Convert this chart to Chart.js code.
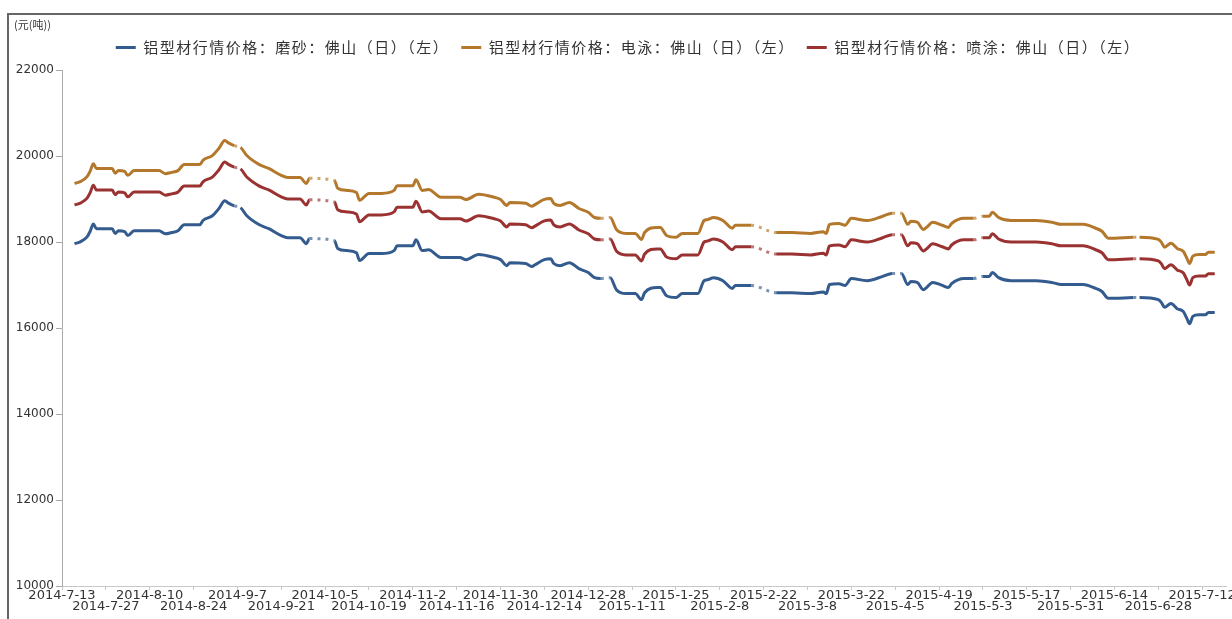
<!DOCTYPE html>
<html>
<head>
<meta charset="utf-8">
<script src="https://cdn.jsdelivr.net/npm/chart.js@4"></script>
<style>
  html, body { margin: 0; padding: 0; background: #fff; overflow: hidden; }
  #marco { position: absolute; left: 7px; top: 13px; width: 1300px; height: 700px;
           border-top: 2px solid #666; border-left: 2px solid #666; }
  #grafico { position: absolute; left: 0; top: 0; }
</style>
</head>
<body>
<div id="marco"></div>
<canvas id="grafico" width="1232" height="619"></canvas>
<script>
// fechas de las marcas del eje x (cada 14 dias desde 2014-7-13)
const etiquetas = ["2014-7-13", "2014-7-27", "2014-8-10", "2014-8-24", "2014-9-7", "2014-9-21",
  "2014-10-5", "2014-10-19", "2014-11-2", "2014-11-16", "2014-11-30", "2014-12-14", "2014-12-28",
  "2015-1-11", "2015-1-25", "2015-2-8", "2015-2-22", "2015-3-8", "2015-3-22", "2015-4-5",
  "2015-4-19", "2015-5-3", "2015-5-17", "2015-5-31", "2015-6-14", "2015-6-28", "2015-7-12"];

// dia (contado desde 2014-7-13) de cada punto
const dias = [
  4, 6, 8, 9, 10, 11, 16, 17, 18, 20,
  21, 23, 31, 33, 35, 37, 39, 44, 45, 48,
  50, 52, 53, 55, 56, 57, 59, 63, 66, 70,
  72, 76, 78, 79, 83, 87, 88, 91, 94, 95,
  98, 102, 106, 107, 112, 113, 115, 117, 121, 127,
  129, 133, 138, 140, 142, 143, 148, 150, 151, 154,
  156, 157, 159, 162, 165, 168, 170, 172, 173, 175,
  177, 180, 183, 185, 186, 190, 191, 193, 196, 198,
  203, 205, 206, 208, 211, 214, 215, 220, 224, 228,
  233, 239, 243, 244, 245, 248, 250, 252, 257, 262,
  265, 266, 268, 270, 271, 273, 275, 276, 278, 281,
  283, 284, 288, 291, 292, 294, 296, 297, 299, 303,
  311, 316, 319, 326, 330, 332, 334, 336, 342, 343,
  344, 350, 351, 352, 354, 356, 358, 359, 360, 361,
  363, 365, 366, 368];

// 铝型材行情价格：磨砂：佛山
const mosha = [
  17960, 18010, 18120, 18250, 18420, 18310, 18310, 18200, 18260, 18240,
  18150, 18260, 18260, 18190, 18220, 18260, 18400, 18400, 18500, 18610,
  18770, 18960, 18910, 18840, null, 18800, 18610, 18400, 18310, 18150,
  18100, 18100, 17960, 18080, null, 18030, 17850, 17800, 17750, 17570,
  17730, 17730, 17800, 17910, 17910, 18050, 17800, 17820, 17640, 17640,
  17590, 17710, 17640, 17590, 17450, 17520, 17500, 17430, 17470, 17590,
  17610, 17500, 17450, 17520, 17380, 17290, 17170, 17150, null, 17170,
  16890, 16800, 16800, 16660, 16820, 16940, 16940, 16750, 16710, 16800,
  16800, 17100, 17120, 17170, 17100, 16920, 16990, 16990, null, 16820,
  16820, 16800, 16840, 16800, 17010, 17030, 16990, 17150, 17100, 17200,
  17270, null, 17270, 17010, 17080, 17060, 16890, 16940, 17060, 16990,
  16940, 17030, 17150, 17150, null, 17200, 17200, 17290, 17170, 17100,
  17100, 17060, 17010, 17010, 16920, 16850, 16690, 16690, 16710, null,
  16710, 16660, 16590, 16480, 16570, 16450, 16380, 16240, 16100, 16270,
  16310, 16310, 16360, 16360];

// 铝型材行情价格：电泳：佛山
const dianyong = [
  19360, 19410, 19520, 19650, 19820, 19710, 19710, 19600, 19660, 19640,
  19550, 19660, 19660, 19590, 19620, 19660, 19800, 19800, 19900, 20010,
  20170, 20360, 20310, 20240, null, 20200, 20010, 19800, 19710, 19550,
  19500, 19500, 19360, 19480, null, 19430, 19250, 19200, 19150, 18970,
  19130, 19130, 19200, 19310, 19310, 19450, 19200, 19220, 19040, 19040,
  18990, 19110, 19040, 18990, 18850, 18920, 18900, 18830, 18870, 18990,
  19010, 18900, 18850, 18920, 18780, 18690, 18570, 18550, null, 18570,
  18290, 18200, 18200, 18060, 18220, 18340, 18340, 18150, 18110, 18200,
  18200, 18500, 18520, 18570, 18500, 18320, 18390, 18390, null, 18220,
  18220, 18200, 18240, 18200, 18410, 18430, 18390, 18550, 18500, 18600,
  18670, null, 18670, 18410, 18480, 18460, 18290, 18340, 18460, 18390,
  18340, 18430, 18550, 18550, null, 18600, 18600, 18690, 18570, 18500,
  18500, 18460, 18410, 18410, 18320, 18250, 18090, 18090, 18110, null,
  18110, 18060, 17990, 17880, 17970, 17850, 17780, 17640, 17500, 17670,
  17710, 17710, 17760, 17760];

// 铝型材行情价格：喷涂：佛山
const pentu = [
  18860, 18910, 19020, 19150, 19320, 19210, 19210, 19100, 19160, 19140,
  19050, 19160, 19160, 19090, 19120, 19160, 19300, 19300, 19400, 19510,
  19670, 19860, 19810, 19740, null, 19700, 19510, 19300, 19210, 19050,
  19000, 19000, 18860, 18980, null, 18930, 18750, 18700, 18650, 18470,
  18630, 18630, 18700, 18810, 18810, 18950, 18700, 18720, 18540, 18540,
  18490, 18610, 18540, 18490, 18350, 18420, 18400, 18330, 18370, 18490,
  18510, 18400, 18350, 18420, 18280, 18190, 18070, 18050, null, 18070,
  17790, 17700, 17700, 17560, 17720, 17840, 17840, 17650, 17610, 17700,
  17700, 18000, 18020, 18070, 18000, 17820, 17890, 17890, null, 17720,
  17720, 17700, 17740, 17700, 17910, 17930, 17890, 18050, 18000, 18100,
  18170, null, 18170, 17910, 17980, 17960, 17790, 17840, 17960, 17890,
  17840, 17930, 18050, 18050, null, 18100, 18100, 18190, 18070, 18000,
  18000, 17960, 17910, 17910, 17820, 17750, 17590, 17590, 17610, null,
  17610, 17560, 17490, 17380, 17470, 17350, 17280, 17140, 17000, 17170,
  17210, 17210, 17260, 17260];

const nombres = ["铝型材行情价格：磨砂：佛山（日）（左）",
  "铝型材行情价格：电泳：佛山（日）（左）",
  "铝型材行情价格：喷涂：佛山（日）（左）"];
const colores = ["#345b8e", "#b4782c", "#9a3232"];

function armarSerie(nombre, valores, color) {
  return {
    label: nombre,
    data: dias.map((d, i) => ({ x: d, y: valores[i] })),
    borderColor: color,
    backgroundColor: color,
    borderWidth: 3,
    pointRadius: 0,
    cubicInterpolationMode: "monotone",
    spanGaps: true,
    segment: {
      // tramos sin dato: punteado
      borderDash: ctx => (ctx.p0.skip || ctx.p1.skip) ? [3, 5] : undefined,
      borderColor: ctx => (ctx.p0.skip || ctx.p1.skip) ? color + "aa" : undefined,
    },
  };
}

const unidad = {
  id: "unidad",
  afterDraw(chart) {
    const ctx = chart.ctx;
    ctx.save();
    ctx.font = "11px 'Noto Sans CJK SC'";
    ctx.fillStyle = "#333";
    ctx.textBaseline = "middle";
    ctx.fillText("(元(吨))", 14, 25);
    ctx.restore();
  },
};

// leyenda con algo de espacio entre letras, alto fijo y corrida a la derecha
const ajusteLeyenda = {
  id: "ajusteLeyenda",
  beforeInit(chart) {
    const leyenda = chart.legend;
    const fitOriginal = leyenda.fit;
    const drawOriginal = leyenda.draw;
    leyenda.fit = function () {
      this.ctx.save();
      this.ctx.letterSpacing = "1.5px";
      fitOriginal.call(this);
      this.ctx.restore();
      this.height = 42;
    };
    leyenda.draw = function () {
      this.ctx.save();
      this.ctx.letterSpacing = "1.5px";
      this.ctx.translate(15, 0);
      drawOriginal.call(this);
      this.ctx.restore();
    };
  },
};

new Chart(document.getElementById("grafico"), {
  type: "line",
  data: {
    datasets: [
      armarSerie(nombres[0], mosha, colores[0]),
      armarSerie(nombres[1], dianyong, colores[1]),
      armarSerie(nombres[2], pentu, colores[2]),
    ],
  },
  options: {
    responsive: false,
    animation: false,
    layout: { padding: { top: 28, right: 6, left: 0, bottom: 0 } },
    plugins: {
      legend: {
        position: "top",
        labels: {
          usePointStyle: true,
          pointStyle: "line",
          pointStyleWidth: 20,
          padding: 12,
          color: "#333",
          font: { family: "'Noto Sans CJK SC'", size: 15 },
        },
      },
      tooltip: { enabled: false },
    },
    scales: {
      x: {
        type: "linear",
        min: 0,
        max: 371.6,
        afterBuildTicks: s => { s.ticks = etiquetas.map((_, i) => ({ value: i * 14 })); },
        afterFit: s => { s.height = 33; s.paddingLeft = 0; s.paddingRight = 0; },
        border: { color: "#c8c8c8", dash: [2, 1] },
        grid: { drawOnChartArea: false, drawTicks: true, tickLength: 4, color: "#c8c8c8" },
        ticks: {
          autoSkip: false,
          maxRotation: 0,
          padding: 0,
          color: "#333",
          font: { family: "'DejaVu Sans'", size: 13, lineHeight: "11px" },
          callback: (v) => {
            const i = Math.round(v / 14);
            return i % 2 === 0 ? etiquetas[i] : ["", etiquetas[i]];
          },
        },
      },
      y: {
        min: 10000,
        max: 22000,
        afterFit: s => { s.width = 62; s.paddingTop = 0; s.paddingBottom = 0; },
        border: { color: "#aaa" },
        grid: { drawOnChartArea: false, drawTicks: true, tickLength: 6, color: "#aaa" },
        ticks: {
          stepSize: 2000,
          padding: 2,
          color: "#333",
          font: { family: "'DejaVu Sans'", size: 12 },
          callback: v => String(v),
        },
      },
    },
  },
  plugins: [unidad, ajusteLeyenda],
});
</script>
</body>
</html>
